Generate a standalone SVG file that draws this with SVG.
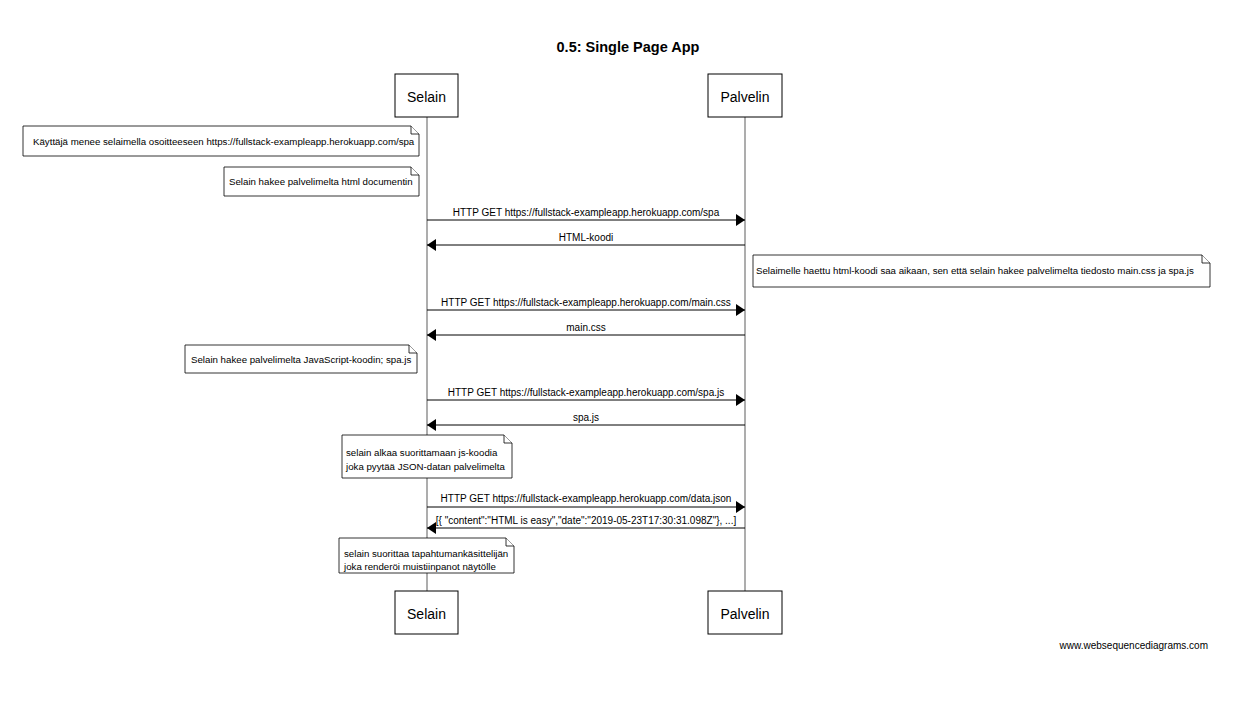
<svg xmlns="http://www.w3.org/2000/svg" width="1256" height="716" viewBox="0 0 1256 716">
<style>
text{font-family:"Liberation Sans",Arial,sans-serif;fill:#000}
.title{font-size:14.5px;font-weight:bold}
.part{font-size:14px}
.msg{font-size:10px}
.note{font-size:9.7px}
.box{fill:#fff;stroke:#000;stroke-width:1}
.life{stroke:#999;stroke-width:1.6}
.arrow{stroke:#000;stroke-width:1;fill:none}
.nb{fill:#fff;stroke:#000;stroke-width:0.8}
.fold{fill:#fff;stroke:#000;stroke-width:0.8}
</style>
<defs>
<marker id="ah" markerWidth="9" markerHeight="12" refX="9" refY="6" orient="auto" markerUnits="userSpaceOnUse">
<path d="M0,0 L9,6 L0,12 Z" fill="#000"/>
</marker>
</defs>
<rect width="1256" height="716" fill="#fff"/>
<text class="title" x="628" y="52" text-anchor="middle">0.5: Single Page App</text>
<g id="lifelines">
<line class="life" x1="427" y1="117" x2="427" y2="591"/>
<line class="life" x1="745" y1="117" x2="745" y2="591"/>
</g>
<g id="selain-top"><rect class="box" x="395" y="74" width="63" height="43"/><text class="part" x="426.5" y="102" text-anchor="middle">Selain</text></g>
<g id="palvelin-top"><rect class="box" x="708" y="74" width="74" height="43"/><text class="part" x="745" y="102" text-anchor="middle">Palvelin</text></g>
<g id="selain-bottom"><rect class="box" x="395" y="591" width="63" height="43"/><text class="part" x="426.5" y="619" text-anchor="middle">Selain</text></g>
<g id="palvelin-bottom"><rect class="box" x="708" y="591" width="74" height="43"/><text class="part" x="745" y="619" text-anchor="middle">Palvelin</text></g>

<g id="note1"><path class="nb" d="M23,126 H411 L419,134 V156 H23 Z"/><path class="fold" d="M411,126 V134 H419"/><text class="note" x="33" y="145">Käyttäjä menee selaimella osoitteeseen https://fullstack-exampleapp.herokuapp.com/spa</text></g>
<g id="note2"><path class="nb" d="M224,167 H411 L419,175 V196 H224 Z"/><path class="fold" d="M411,167 V175 H419"/><text class="note" x="229" y="185">Selain hakee palvelimelta html documentin</text></g>
<g id="note3"><path class="nb" d="M753,255 H1202 L1210,263 V287 H753 Z"/><path class="fold" d="M1202,255 V263 H1210"/><text class="note" x="756" y="274">Selaimelle haettu html-koodi saa aikaan, sen että selain hakee palvelimelta tiedosto main.css ja spa.js</text></g>
<g id="note4"><path class="nb" d="M185,345 H409 L417,353 V373 H185 Z"/><path class="fold" d="M409,345 V353 H417"/><text class="note" x="191" y="363">Selain hakee palvelimelta JavaScript-koodin; spa.js</text></g>
<g id="note5"><path class="nb" d="M342,435 H504 L512,443 V478 H342 Z"/><path class="fold" d="M504,435 V443 H512"/><text class="note" x="346" y="456">selain alkaa suorittamaan js-koodia</text><text class="note" x="346" y="470">joka pyytää JSON-datan palvelimelta</text></g>
<g id="note6"><path class="nb" d="M339,538 H506 L514,546 V573 H339 Z"/><path class="fold" d="M506,538 V546 H514"/><text class="note" x="344" y="557">selain suorittaa tapahtumankäsittelijän</text><text class="note" x="344" y="570">joka renderöi muistiinpanot näytölle</text></g>

<g id="connectors">
<line class="arrow" x1="427" y1="220" x2="745" y2="220" marker-end="url(#ah)"/>
<line class="arrow" x1="745" y1="245" x2="427" y2="245" marker-end="url(#ah)"/>
<line class="arrow" x1="427" y1="310" x2="745" y2="310" marker-end="url(#ah)"/>
<line class="arrow" x1="745" y1="335" x2="427" y2="335" marker-end="url(#ah)"/>
<line class="arrow" x1="427" y1="400" x2="745" y2="400" marker-end="url(#ah)"/>
<line class="arrow" x1="745" y1="425" x2="427" y2="425" marker-end="url(#ah)"/>
<line class="arrow" x1="427" y1="507" x2="745" y2="507" marker-end="url(#ah)"/>
<line class="arrow" x1="745" y1="528" x2="427" y2="528" marker-end="url(#ah)"/>
</g>
<g id="labels">
<text class="msg" x="586" y="216" text-anchor="middle">HTTP GET https://fullstack-exampleapp.herokuapp.com/spa</text>
<text class="msg" x="586" y="241" text-anchor="middle">HTML-koodi</text>
<text class="msg" x="586" y="306" text-anchor="middle">HTTP GET https://fullstack-exampleapp.herokuapp.com/main.css</text>
<text class="msg" x="586" y="331" text-anchor="middle">main.css</text>
<text class="msg" x="586" y="396" text-anchor="middle">HTTP GET https://fullstack-exampleapp.herokuapp.com/spa.js</text>
<text class="msg" x="586" y="421" text-anchor="middle">spa.js</text>
<text class="msg" x="586" y="502" text-anchor="middle">HTTP GET https://fullstack-exampleapp.herokuapp.com/data.json</text>
<text class="msg" x="586" y="524" text-anchor="middle">[{ "content":"HTML is easy","date":"2019-05-23T17:30:31.098Z"}, ...]</text>
</g>
<text class="msg" x="1208" y="649" text-anchor="end">www.websequencediagrams.com</text>
</svg>
